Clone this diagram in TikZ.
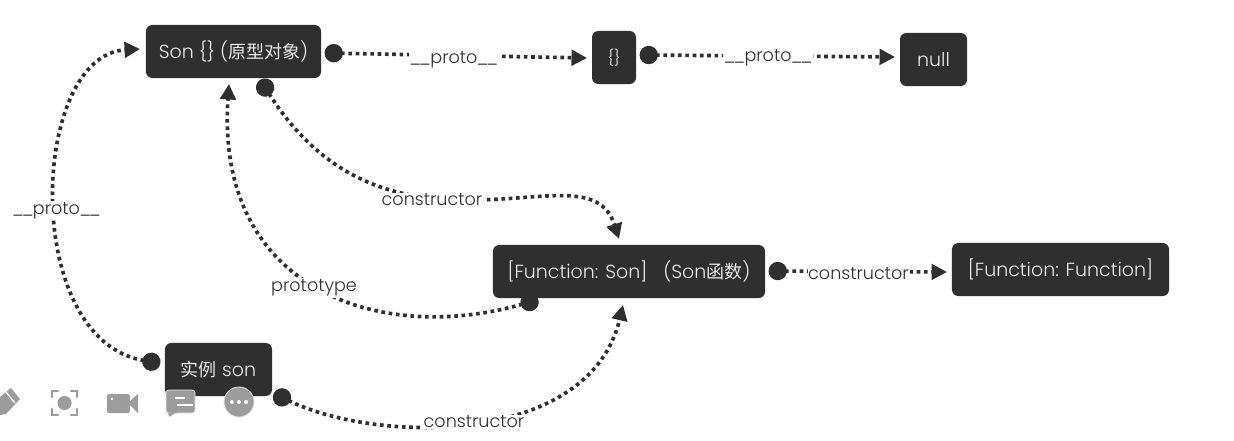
\documentclass[tikz,border=0pt]{standalone}
\usepackage{fontspec}
\setmainfont{Poppins Light}
\newfontfamily\cjk[Scale=0.95]{Noto Sans CJK SC}
\usetikzlibrary{arrows.meta}
\definecolor{boxgray}{HTML}{2F2F2F}
\definecolor{icongray}{HTML}{9C9C9C}
\newcommand{\protolabel}{\_\kern-1.5pt\_\kern-0.5pt proto\kern-0.5pt\_\kern-1.5pt\_}
\tikzset{
  main node/.style={rectangle,rounded corners=4.5pt,fill=boxgray,text=white!92!black,font=\fontsize{13.5}{16}\selectfont,inner sep=0pt},
  link/.style={draw=boxgray,line width=2.6pt,dash pattern=on 2.6pt off 2.6pt,{Circle[length=13pt,sep=-1pt]}-{Triangle[length=11pt,width=11pt]}},
  link label/.style={fill=white,text=boxgray,font=\fontsize{12.5}{14}\selectfont,inner xsep=0.5pt,inner ysep=1pt,yshift=-0.05cm},
  icon/.style={fill=icongray,draw=none}
}
\begin{document}
\begin{tikzpicture}[x=0.025cm,y=-0.025cm]
    \useasboundingbox (0,0) rectangle (1234,440);
    \node [main node, minimum width=4.375cm, minimum height=1.325cm] (son) at (233.5,51.5) {Son \{\} ({\cjk 原型对象})};
    \node [main node, minimum width=1.1cm, minimum height=1.325cm, font=\fontsize{11}{13}\selectfont] (obj) at (614,57.5) {\{\}};
    \node [main node, minimum width=1.675cm, minimum height=1.325cm] (null) at (933.5,59.5) {null};
    \node [main node, minimum width=6.8cm, minimum height=1.325cm] (fn) at (629,271.5) {[Function: Son]\hspace{0.4cm}(Son{\cjk 函数})};
    \node [main node, minimum width=5.425cm, minimum height=1.325cm] (fnfn) at (1060.5,269.5) {[Function: Function]};
    \node [main node, minimum width=2.675cm, minimum height=1.325cm] (inst) at (218.5,369.5) {{\cjk 实例} son};

    % free ends of the connectors, just off the boxes
    \coordinate (son out) at (326,53);
    \coordinate (son left) at (140,49);
    \coordinate (son up) at (229,84);
    \coordinate (son down) at (261,81);
    \coordinate (obj in) at (587,58);
    \coordinate (obj out) at (641,55);
    \coordinate (null in) at (895,57);
    \coordinate (fn top) at (619,239);
    \coordinate (fn bottom) at (537,300);
    \coordinate (fn up) at (623,305);
    \coordinate (fn out) at (770,271);
    \coordinate (fnfn in) at (947,272);
    \coordinate (inst left) at (159,363);
    \coordinate (inst right) at (275,394);

    \draw [link] (son out) -- node [link label, pos=0.49, yshift=-0.05cm] (l1) {\protolabel} (obj in);
    \draw [link] (obj out) -- node [link label, pos=0.50] (l2) {\protolabel} (null in);
    \draw [link] (fn out) -- node [link label, pos=0.50] (l3) {constructor} (fnfn in);
    \draw [link] (inst left) .. controls (20,340) and (30,55) .. node [link label, pos=0.48] (l4) {\protolabel} (son left);
    \draw [link] (fn bottom) .. controls (380,345) and (215,290) .. node [link label, pos=0.50, xshift=-0.12cm] (l5) {prototype} (son up);
    \draw [link] (son down) .. controls (330,190) and (410,200) .. (470,200) .. controls (545,200) and (600,180) .. (fn top);
    \node [link label] (l6) at (432,198) {constructor};
    \draw [link] (inst right) .. controls (380,445) and (590,445) .. (fn up);
    \node [link label] (l7) at (474,420) {constructor};

    % toolbar
    \path [icon] (0,397) -- (11,388) -- (20,399) -- (6,414) -- (0,415) -- cycle;
    \draw [white, line width=1pt] (6,392) -- (15,403);
    \draw [icongray, line width=2pt, line cap=round] (52,397) -- (52,391) -- (58,391) (71,391) -- (77,391) -- (77,397) (77,409) -- (77,415) -- (71,415) (58,415) -- (52,415) -- (52,409);
    \fill [icongray] (64.5,403) circle (7);
    \path [icon, rounded corners=1.5pt] (107,394) rectangle (130,413);
    \path [icon] (128,403) -- (138,394) -- (138,413) -- cycle;
    \fill [white] (112,399) circle (1.3);
    \path [icon, rounded corners=2pt, draw=white!75!icongray, line width=0.5pt] (166,390) -- (195,390) -- (195,413) -- (175,413) -- (169,418) -- (168,413) -- (166,413) -- cycle;
    \draw [white, line width=1.2pt] (175,398) -- (185,398) (177,405) -- (193,405);
    \fill [icongray, draw=white!70!icongray, line width=0.6pt] (239,402) circle (15);
    \fill [white] (232,402) circle (2) (239,402) circle (2) (246,402) circle (2);
\end{tikzpicture}
\end{document}
